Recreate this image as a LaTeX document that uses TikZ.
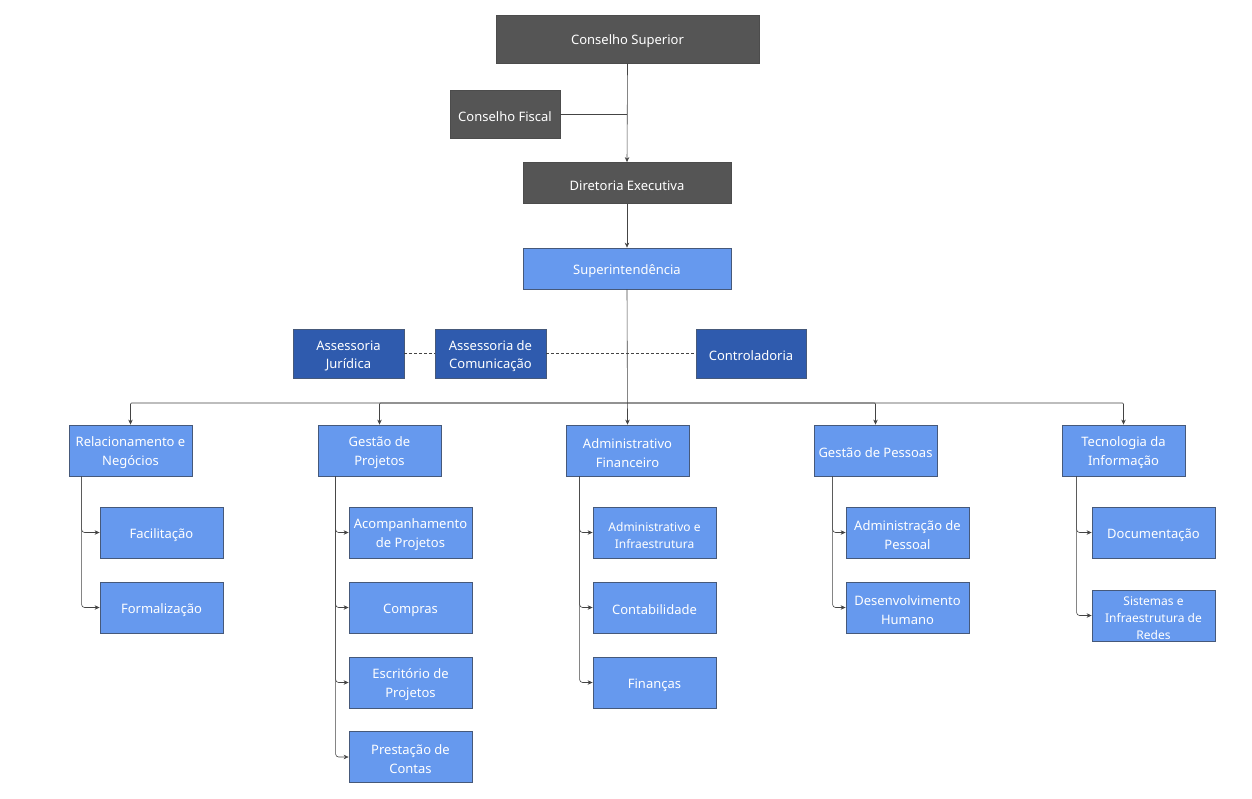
\documentclass[tikz,border=0pt]{standalone}
\usepackage{fontspec}
\setmainfont{Noto Sans}
\usetikzlibrary{arrows.meta}
\definecolor{dgray}{HTML}{555555}
\definecolor{lblue}{HTML}{6699EE}
\definecolor{dblue}{HTML}{2F5BAE}
\definecolor{edgec}{HTML}{444444}
\definecolor{bordc}{HTML}{46597A}
\tikzset{
  box/.style={draw=bordc, line width=0.8pt, inner sep=0pt},
  txt/.style={text=white, align=center, inner sep=0pt, font=\fontsize{13}{19}\selectfont},
  smallt/.style={font=\fontsize{12}{17}\selectfont},
  grayb/.style={box, fill=dgray, draw=black!70},
  blueb/.style={box, fill=lblue},
  dblueb/.style={box, fill=dblue},
  conn/.style={draw=edgec, line width=0.6pt},
  arr/.style={conn, -{Stealth[length=5pt,width=4.5pt]}},
}
% #1 style, #2 name, #3 center, #4 width, #5 height, #6 text style, #7 text
\newcommand\mybox[7]{%
  \node[#1, minimum width=#4, minimum height=#5] (#2) at (#3) {};
  \node[txt, #6] (#2t) at ([yshift=-2.5]#2.center) {#7};
}
\begin{document}
\begin{tikzpicture}[x=1pt,y=-1pt]
\useasboundingbox (0,0) rectangle (1252,798);
% top
\mybox{grayb}{cs}{627.5,39}{263}{48}{}{Conselho Superior}
\mybox{grayb}{cf}{505,114}{110}{48}{}{Conselho Fiscal}
\mybox{grayb}{de}{627,183}{208}{41}{}{Diretoria Executiva}
\mybox{blueb}{su}{627,268.5}{208}{41}{}{Superintendência}
% assessorias
\mybox{dblueb}{aj}{348.5,353.5}{111}{49}{font=\fontsize{13}{18}\selectfont}{Assessoria\\Jurídica}
\mybox{dblueb}{ac}{490.5,353.5}{111}{49}{font=\fontsize{13}{18}\selectfont}{Assessoria de\\Comunicação}
\mybox{dblueb}{ct}{751,353.5}{110}{49}{}{Controladoria}
% level 2
\mybox{blueb}{rn}{130.5,450.5}{123}{51}{}{Relacionamento e\\Negócios}
\mybox{blueb}{gp}{379.5,450.5}{123}{51}{}{Gestão de\\Projetos}
\mybox{blueb}{af}{627.5,450.5}{123}{51}{}{Administrativo\\Financeiro}
\mybox{blueb}{gpe}{875.5,450.5}{123}{51}{}{Gestão de Pessoas}
\mybox{blueb}{ti}{1123.5,450.5}{123}{51}{}{Tecnologia da\\Informação}
% level 3
\mybox{blueb}{fa}{161.5,532.5}{123}{51}{}{Facilitação}
\mybox{blueb}{fo}{161.5,607.5}{123}{51}{}{Formalização}
\mybox{blueb}{acp}{410.5,532.5}{123}{51}{}{Acompanhamento\\de Projetos}
\mybox{blueb}{co}{410.5,607.5}{123}{51}{}{Compras}
\mybox{blueb}{ep}{410.5,682.5}{123}{51}{}{Escritório de\\Projetos}
\mybox{blueb}{pc}{410.5,757}{123}{51}{}{Prestação de\\Contas}
\mybox{blueb}{ai}{654.5,532.5}{123}{51}{smallt}{Administrativo e\\Infraestrutura}
\mybox{blueb}{cb}{654.5,607.5}{123}{51}{}{Contabilidade}
\mybox{blueb}{fi}{654.5,682.5}{123}{51}{}{Finanças}
\mybox{blueb}{adp}{907.5,532.5}{123}{51}{}{Administração de\\Pessoal}
\mybox{blueb}{dh}{907.5,607.5}{123}{51}{}{Desenvolvimento\\Humano}
\mybox{blueb}{doc}{1153.5,532.5}{123}{51}{}{Documentação}
\mybox{blueb}{sir}{1153.5,615.5}{123}{51}{smallt}{Sistemas e\\Infraestrutura de\\Redes}
% connectors top
\coordinate (j1) at (627,114);
\draw[arr] (cs.south) -- (de.north);
\draw[conn] (cf.east) -- (j1);
\draw[arr] (de.south) -- (su.north);
% dashed
\draw[conn, dash pattern=on 3pt off 2pt] (aj.east) -- (ac.west);
\draw[conn, dash pattern=on 3pt off 2pt] (ac.east) -- (ct.west);
% bus
\coordinate (bus) at (627,403);
\draw[arr] (su.south) -- (af.north);
\draw[arr, rounded corners=1pt] (bus) -| (rn.north);
\draw[arr, rounded corners=1pt] (bus) -| (gp.north);
\draw[arr, rounded corners=1pt] (bus) -| (gpe.north);
\draw[arr, rounded corners=1pt] (bus) -| (ti.north);
% columns
\foreach \p/\o/\cs in {rn/13/{fa,fo}, gp/18/{acp,co,ep,pc}, af/14/{ai,cb,fi}, gpe/19/{adp,dh}, ti/15/{doc,sir}}{
  \foreach \c in \cs {
    \draw[arr, rounded corners=3pt] ([xshift=\o]\p.south west) |- (\c.west);
  }
}
\end{tikzpicture}
\end{document}
